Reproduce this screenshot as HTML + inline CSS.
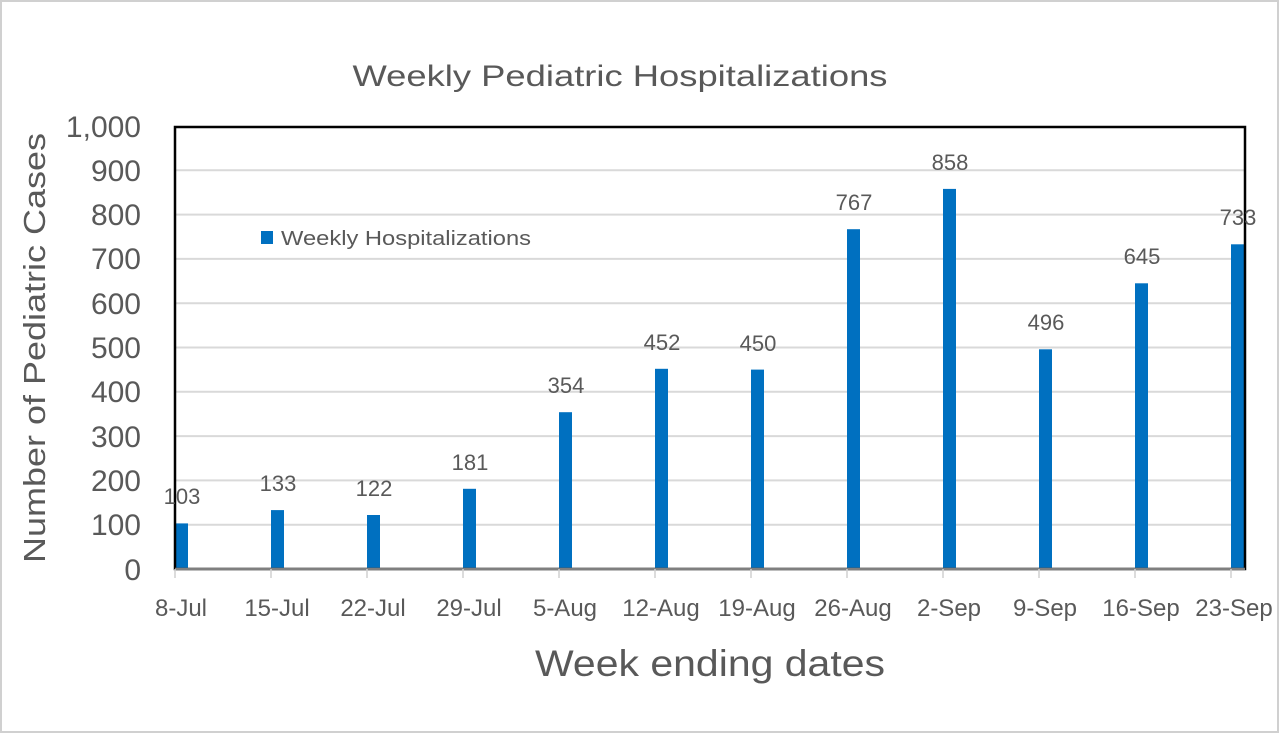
<!DOCTYPE html>
<html><head><meta charset="utf-8"><style>
html,body{margin:0;padding:0;background:#fff;}
svg{display:block;}
text{font-family:"Liberation Sans",sans-serif;fill:#595959;}
</style></head><body>
<svg width="1280" height="734" viewBox="0 0 1280 734" xmlns="http://www.w3.org/2000/svg">
<rect x="1" y="1" width="1277" height="731" fill="#fff" stroke="#d0d0d0" stroke-width="2"/>
<text x="620" y="86" font-size="30" text-anchor="middle" textLength="535" lengthAdjust="spacingAndGlyphs">Weekly Pediatric Hospitalizations</text>
<g stroke="#d9d9d9" stroke-width="2">
<line x1="175" x2="1245" y1="524.7" y2="524.7"/>
<line x1="175" x2="1245" y1="480.4" y2="480.4"/>
<line x1="175" x2="1245" y1="436.1" y2="436.1"/>
<line x1="175" x2="1245" y1="391.8" y2="391.8"/>
<line x1="175" x2="1245" y1="347.5" y2="347.5"/>
<line x1="175" x2="1245" y1="303.2" y2="303.2"/>
<line x1="175" x2="1245" y1="258.9" y2="258.9"/>
<line x1="175" x2="1245" y1="214.6" y2="214.6"/>
<line x1="175" x2="1245" y1="170.3" y2="170.3"/>
</g>
<g fill="#0070c0">
<rect x="175" y="523.4" width="13" height="45.6"/>
<rect x="271" y="510.1" width="13" height="58.9"/>
<rect x="367" y="515" width="13" height="54"/>
<rect x="463" y="488.8" width="13" height="80.2"/>
<rect x="559" y="412.2" width="13" height="156.8"/>
<rect x="655" y="368.8" width="13" height="200.2"/>
<rect x="751" y="369.6" width="13" height="199.4"/>
<rect x="847" y="229.2" width="13" height="339.8"/>
<rect x="943" y="188.9" width="13" height="380.1"/>
<rect x="1039" y="349.3" width="13" height="219.7"/>
<rect x="1135" y="283.3" width="13" height="285.7"/>
<rect x="1231" y="244.3" width="13" height="324.7"/>
</g>
<rect x="175" y="127" width="1070" height="442" fill="none" stroke="#000" stroke-width="2.5"/>
<line x1="175" x2="1245" y1="569" y2="569" stroke="#7f7f7f" stroke-width="2.5"/>
<g stroke="#d0d0d0" stroke-width="1.5">
<line x1="175" x2="175" y1="569" y2="578"/><line x1="271" x2="271" y1="569" y2="578"/><line x1="367" x2="367" y1="569" y2="578"/><line x1="463" x2="463" y1="569" y2="578"/><line x1="559" x2="559" y1="569" y2="578"/><line x1="655" x2="655" y1="569" y2="578"/><line x1="751" x2="751" y1="569" y2="578"/><line x1="847" x2="847" y1="569" y2="578"/><line x1="943" x2="943" y1="569" y2="578"/><line x1="1039" x2="1039" y1="569" y2="578"/><line x1="1135" x2="1135" y1="569" y2="578"/><line x1="1231" x2="1231" y1="569" y2="578"/>
</g>
<g font-size="22" text-anchor="middle" style="fill:#404040">
<text x="182" y="504">103</text><text x="278" y="491">133</text><text x="374" y="496">122</text><text x="470" y="470">181</text><text x="566" y="393">354</text><text x="662" y="350">452</text><text x="758" y="351">450</text><text x="854" y="210">767</text><text x="950" y="170">858</text><text x="1046" y="330">496</text><text x="1142" y="264">645</text><text x="1238" y="225">733</text>
</g>
<g font-size="30" text-anchor="end">
<text x="141" y="580">0</text><text x="141" y="535">100</text><text x="141" y="491">200</text><text x="141" y="447">300</text><text x="141" y="402">400</text><text x="141" y="358">500</text><text x="141" y="314">600</text><text x="141" y="269">700</text><text x="141" y="225">800</text><text x="141" y="181">900</text><text x="141" y="137">1,000</text>
</g>
<g font-size="24" text-anchor="middle">
<text x="181" y="616">8-Jul</text><text x="277" y="616">15-Jul</text><text x="373" y="616">22-Jul</text><text x="469" y="616">29-Jul</text><text x="565" y="616">5-Aug</text><text x="661" y="616">12-Aug</text><text x="757" y="616">19-Aug</text><text x="853" y="616">26-Aug</text><text x="949" y="616">2-Sep</text><text x="1045" y="616">9-Sep</text><text x="1141" y="616">16-Sep</text><text x="1234" y="616">23-Sep</text>
</g>
<text x="710" y="676" font-size="37" text-anchor="middle" textLength="350" lengthAdjust="spacingAndGlyphs">Week ending dates</text>
<text transform="translate(45,348) rotate(-90)" font-size="31" text-anchor="middle" textLength="430" lengthAdjust="spacingAndGlyphs">Number of Pediatric Cases</text>
<rect x="261" y="231" width="12" height="13" fill="#0070c0"/>
<text x="281" y="245" font-size="20" textLength="250" lengthAdjust="spacingAndGlyphs">Weekly Hospitalizations</text>
</svg>
</body></html>
